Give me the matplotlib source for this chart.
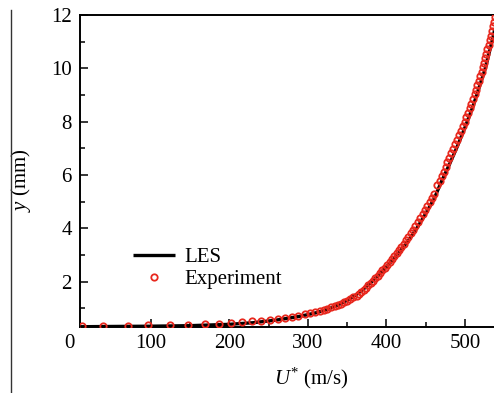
import matplotlib
matplotlib.use("Agg")
import matplotlib.pyplot as plt
from matplotlib.lines import Line2D

plt.rcParams['font.family'] = ['Liberation Serif', 'DejaVu Serif']
plt.rcParams['mathtext.fontset'] = 'custom'
plt.rcParams['mathtext.rm'] = 'Liberation Serif'
plt.rcParams['mathtext.it'] = 'Liberation Serif:italic'

# LES profile (U* in m/s, y in mm)
les_u = [10, 50, 100, 150, 200, 230, 260, 290, 310, 320, 330, 340, 350, 360, 370,
         380, 390, 400, 410, 420, 430, 440, 450, 461, 470, 480, 490, 500, 510,
         526, 536, 542]
les_y = [0.31, 0.32, 0.33, 0.35, 0.40, 0.46, 0.56, 0.70, 0.83, 0.91, 1.02, 1.15,
         1.30, 1.48, 1.70, 1.96, 2.25, 2.55, 2.88, 3.24, 3.62, 4.06, 4.55, 5.12,
         5.75, 6.38, 7.05, 7.78, 8.55, 10.0, 11.2, 12.0]

# Experimental profile
exp_u = [12, 39, 71, 97, 124, 147, 169, 187, 202, 216, 229, 241, 252, 262, 271,
         280, 288, 296, 303, 309, 315, 320, 325, 330, 334, 338, 342, 346, 350,
         354, 358, 362, 365, 368, 371, 374, 377, 380, 383, 386, 389, 392, 395,
         398, 401, 404, 407, 410, 413, 416, 419, 422, 425, 428, 431, 434, 437,
         440, 443, 446, 449, 452, 455, 458, 461, 465, 468, 470.4, 472.9, 475.4,
         477.8, 480.3, 482.7, 485.2, 487.6, 490.0, 492.4, 494.7, 497.1, 499.5,
         501.6, 503.8, 505.9, 508.0, 510.1, 512.2, 514.0, 515.8, 517.6, 519.4,
         521.1, 522.8, 524.3, 525.7, 527.2, 528.6, 530.1, 531.5, 532.7, 534.0,
         535.3, 536.6, 537.8]
exp_y = [0.33, 0.34, 0.35, 0.36, 0.37, 0.39, 0.41, 0.43, 0.45, 0.48, 0.51, 0.54,
         0.57, 0.61, 0.64, 0.68, 0.72, 0.77, 0.82, 0.86, 0.91, 0.95, 0.99, 1.04,
         1.08, 1.12, 1.17, 1.22, 1.28, 1.34, 1.41, 1.48, 1.55, 1.62, 1.70, 1.78,
         1.86, 1.95, 2.04, 2.13, 2.23, 2.33, 2.43, 2.53, 2.63, 2.74, 2.85, 2.96,
         3.07, 3.19, 3.31, 3.43, 3.56, 3.69, 3.82, 3.95, 4.09, 4.23, 4.37, 4.52,
         4.67, 4.82, 4.97, 5.13, 5.29, 5.62, 5.79, 5.96, 6.13, 6.30, 6.47, 6.64,
         6.81, 6.98, 7.15, 7.32, 7.49, 7.66, 7.83, 8.00, 8.17, 8.34, 8.51, 8.68,
         8.85, 9.02, 9.19, 9.36, 9.53, 9.70, 9.87, 10.04, 10.21, 10.38, 10.55,
         10.72, 10.89, 11.06, 11.23, 11.40, 11.57, 11.74, 11.91]

x_ticks = [0, 100, 200, 300, 400, 500]
x_labels = ['0', '100', '200', '300', '400', '500']
y_ticks = [2, 4, 6, 8, 10, 12]

FS = 15

fig = plt.figure(figsize=(4.94, 3.93), dpi=100)
ax = fig.add_axes([80/494, 66/393, 414/494, 312/393])

ax.plot(les_u, les_y, color='black', lw=2.4, label='LES', zorder=2,
        solid_capstyle='butt')
ax.plot(exp_u, exp_y, linestyle='none', marker='o', markersize=4.6,
        markerfacecolor='none', markeredgecolor='#e8281e', markeredgewidth=1.3,
        label='Experiment', zorder=3)

ax.set_xlim(10, 537)
ax.set_ylim(0.3, 12)
ax.set_xticks(x_ticks[1:])
ax.set_xticklabels(x_labels[1:])
ax.set_yticks(y_ticks)
ax.set_xticks([150, 250, 350, 450], minor=True)
ax.set_yticks([1, 3, 5, 7, 9, 11], minor=True)
ax.tick_params(which='major', direction='in', length=6, width=1.1,
               labelsize=FS, pad=5, top=False, right=False)
ax.tick_params(which='minor', direction='in', length=3.5, width=1.1,
               top=False, right=False)
ax.tick_params(axis='y', pad=6)

for s in ['left', 'bottom', 'top']:
    ax.spines[s].set_linewidth(1.4)
ax.spines['right'].set_visible(False)

# '0' label at the left of the x axis (outside the visible range)
ax.annotate(x_labels[0], xy=(x_ticks[0], 0), xycoords=ax.get_xaxis_transform(),
            xytext=(-2, -5), textcoords='offset points', ha='center', va='top',
            fontsize=FS, annotation_clip=False)

ax.set_xlabel(r'$\mathit{U}^{*}$ (m/s)', fontsize=FS)
ax.xaxis.set_label_coords(0.558, -0.125)
ax.set_ylabel(r'$\mathit{y}$ (mm)', fontsize=FS)
ax.yaxis.set_label_coords(-0.113, 0.47)

ax.legend(loc='upper left', bbox_to_anchor=(0.128, 0.255), frameon=False,
          fontsize=FS, handlelength=2.0, handletextpad=0.45, labelspacing=0.12,
          borderpad=0, borderaxespad=0)

fig.add_artist(Line2D([11/494, 11/494], [0, 383/393], color='#333333', lw=1.0,
                      transform=fig.transFigure))

fig.savefig('out.png', dpi=100)
